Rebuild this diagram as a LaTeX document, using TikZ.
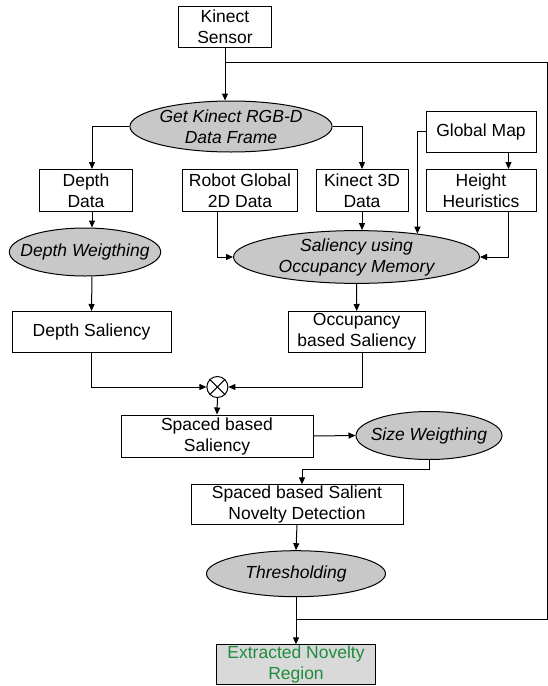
\documentclass[tikz,border=0pt]{standalone}
\usepackage{fontspec}
\setmainfont{Liberation Sans}
\usepackage{xcolor}
\usepackage{tikz}
\usetikzlibrary{arrows.meta,shapes.geometric,calc}
\definecolor{ink}{HTML}{000000}
\definecolor{ovalgray}{HTML}{C8C8C8}
\definecolor{boxgray}{HTML}{D9D9D9}
\definecolor{outgreen}{HTML}{1E8C3C}
\tikzset{
  line/.style={draw=ink, line width=1pt},
  arr/.style={line, -{Triangle[length=7pt,width=6pt]}},
  txt/.style={font=\fontsize{17.5}{21}\selectfont, align=center, inner sep=1pt},
  box/.style={txt, draw=ink, fill=white, line width=1pt, rectangle},
  oval/.style={txt, draw=ink, fill=ovalgray, line width=1pt, ellipse, inner sep=0pt, font=\fontsize{17.5}{21}\selectfont\itshape},
  outbox/.style={box, fill=boxgray, text=outgreen},
  mult/.style={circle, draw=ink, fill=white, line width=1pt, minimum size=21pt, inner sep=0pt}
}

\begin{document}
\begin{tikzpicture}[x=1pt,y=-1pt]
  \useasboundingbox (0,0) rectangle (548,686);

  % sensor and frame grabbing
  \node[box, minimum width=93, minimum height=41] (sensor) at (225,27) {Kinect\\Sensor};
  \node[oval, minimum width=192, minimum height=51] (getframe) at (231,126.5) {Get Kinect RGB-D\\Data Frame};

  % inputs
  \node[box, minimum width=93, minimum height=42] (depth) at (86,190.5) {Depth\\Data};
  \node[box, minimum width=115, minimum height=42] (robot) at (240,190.5) {Robot Global\\2D Data};
  \node[box, minimum width=92, minimum height=42] (kin3d) at (362,190.5) {Kinect 3D\\Data};
  \node[box, minimum width=110, minimum height=41] (globalmap) at (481,131.5) {Global Map};
  \node[box, minimum width=110, minimum height=42] (height) at (481,190.5) {Height\\Heuristics};

  % saliency
  \node[oval, inner xsep=-11pt, minimum width=146, minimum height=48] (depthw) at (85,252) {Depth Weigthing};
  \node[oval, minimum width=246, minimum height=52] (saliency) at (356.5,257) {Saliency using\\Occupancy Memory};
  \node[box, minimum width=159, minimum height=41] (depthsal) at (91.5,332) {Depth Saliency};
  \node[box, minimum width=137, minimum height=41] (occ) at (356.7,332) {Occupancy\\based Saliency};
  \node[mult] (prod) at (217.4,387) {};
  \draw[line] (prod.north east) -- (prod.south west);
  \draw[line] (prod.north west) -- (prod.south east);

  % novelty
  \node[box, minimum width=192, minimum height=42] (spaced) at (217,436) {Spaced based\\Saliency};
  \node[oval, inner xsep=-10pt, minimum width=146, minimum height=48] (sizew) at (429,435.5) {Size Weigthing};
  \node[box, minimum width=212, minimum height=39] (novelty) at (297,504.5) {Spaced based Salient\\Novelty Detection};
  \node[oval, minimum width=179, minimum height=46] (thresh) at (296,573.7) {Thresholding};
  \node[outbox, minimum width=159, minimum height=39] (region) at (296,664.5) {Extracted Novelty\\Region};

  \coordinate (fb) at (225,62);
  \coordinate (fbtop) at (547,62);
  \coordinate (fbjoin) at (296,619);

  \draw[arr] (sensor.south) -- (sensor.south |- getframe.north);
  \draw[line] (fb) -- (fbtop) |- (fbjoin);
  \draw[arr] (getframe.west) -| ([xshift=6]depth.north);
  \draw[arr] (getframe.east) -| (kin3d.north);
  \draw[arr] ([xshift=27.5]globalmap.south) -- ([xshift=27.5]height.north);
  \draw[arr] (globalmap.west) -| (saliency.21.5);
  \draw[arr] (kin3d.south) -- (kin3d.south |- saliency.north);
  \draw[arr] ([xshift=-22.5]robot.south) |- (saliency.west);
  \draw[arr] ([xshift=27.5]height.south) |- (saliency.east);
  \draw[arr] ([xshift=6]depth.south) -- ([xshift=6]depth.south |- depthw.north);
  \draw[arr] ([xshift=6]depth.south |- depthw.south) -- (depthsal.north);
  \draw[arr] (saliency.south) -- (occ.north);
  \draw[arr] (depthsal.south) |- (prod.west);
  \draw[arr] ([xshift=6]occ.south) |- (prod.east);
  \draw[arr] (prod.south) -- (spaced.north);
  \draw[arr] (spaced.east) -- (sizew.west);
  \draw[arr] (sizew.south) -- ++(0,9) -| ([xshift=5]novelty.north);
  \draw[arr] (novelty.south) -- (thresh.north);
  \draw[arr] (thresh.south) -- (region.north);
\end{tikzpicture}
\end{document}
